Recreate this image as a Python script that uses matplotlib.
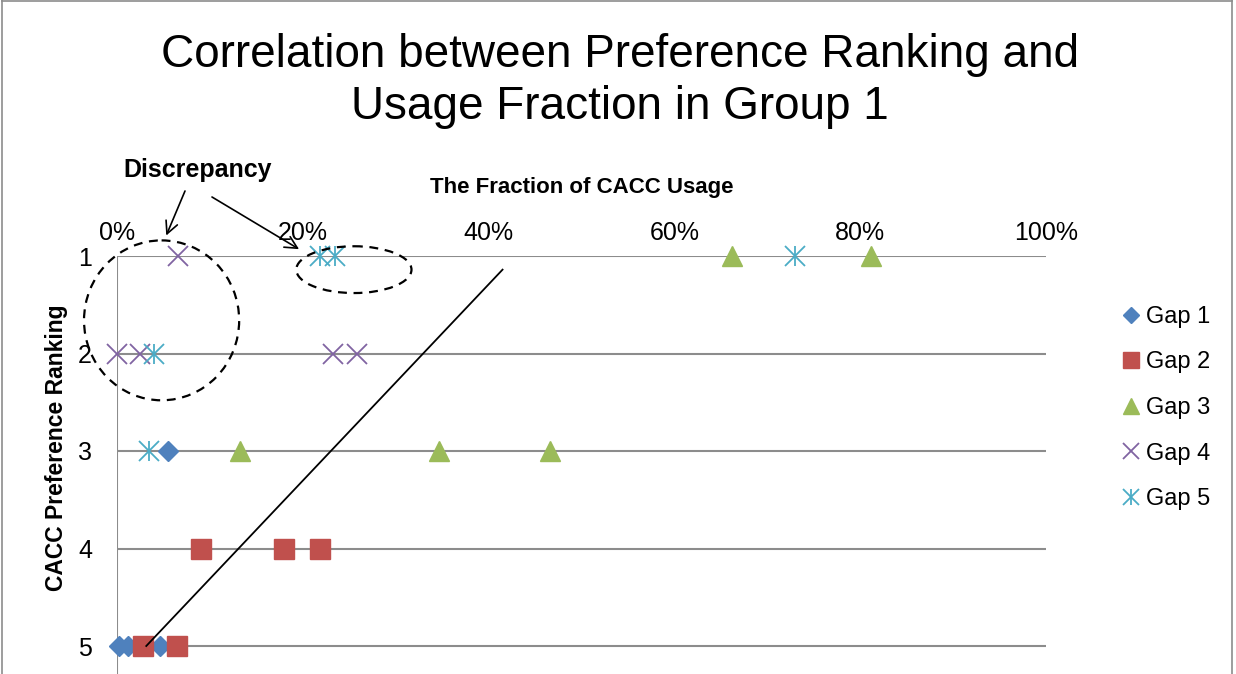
import numpy as np
import matplotlib.pyplot as plt
from matplotlib.patches import Ellipse
from matplotlib.lines import Line2D
from matplotlib.legend_handler import HandlerTuple
from matplotlib.ticker import PercentFormatter

plt.rcParams['font.family'] = ['Liberation Sans', 'DejaVu Sans']

# fraccion de uso (x) y ranking de preferencia (y) por gap
gap1_x = [0.055, 0.0025, 0.012, 0.046]
gap1_y = [3, 5, 5, 5]
gap2_x = [0.090, 0.180, 0.219, 0.028, 0.065]
gap2_y = [4, 4, 4, 5, 5]
gap3_x = [0.662, 0.812, 0.132, 0.347, 0.466]
gap3_y = [1, 1, 3, 3, 3]
gap4_x = [0.066, 0.0, 0.025, 0.232, 0.258]
gap4_y = [1, 2, 2, 2, 2]
gap5_x = [0.219, 0.235, 0.730, 0.040, 0.034]
gap5_y = [1, 1, 1, 2, 3]

etiquetas = ['Gap 1', 'Gap 2', 'Gap 3', 'Gap 4', 'Gap 5']
rankings = [1, 2, 3, 4, 5]
x_ticks = [0, 0.2, 0.4, 0.6, 0.8, 1.0]

azul, rojo, verde, morado, cian = '#4F81BD', '#C0504D', '#9BBB59', '#8064A2', '#4BACC6'

W, H = 1236, 674
fig = plt.figure(figsize=(W / 100, H / 100), dpi=100)
ax = fig.add_axes([117 / W, 0, (1046 - 117) / W, (674 - 256) / H])

ax.set_xlim(0, 1)
ax.set_ylim(1 + (674 - 256) / 97.5, 1)

# lineas horizontales de cada ranking
for r in rankings:
    ax.axhline(r, color='#8c8c8c', lw=1.5, zorder=1)
ax.axvline(0, color='#8c8c8c', lw=1.5, zorder=1)
for s in ax.spines.values():
    s.set_visible(False)

ax.xaxis.tick_top()
ax.set_xticks(x_ticks)
ax.xaxis.set_major_formatter(PercentFormatter(1.0, decimals=0))
ax.set_yticks(rankings)
ax.tick_params(length=0, labelsize=18)
ax.tick_params(axis='x', pad=8)
ax.tick_params(axis='y', pad=18)

# puntos
h1, = ax.plot(gap1_x, gap1_y, 'D', color=azul, ms=10, ls='none', zorder=3, clip_on=False)
h2, = ax.plot(gap2_x, gap2_y, 's', color=rojo, ms=14, ls='none', zorder=3, clip_on=False)
h3, = ax.plot(gap3_x, gap3_y, '^', color=verde, ms=14, ls='none', zorder=3, clip_on=False)
h4, = ax.plot(gap4_x, gap4_y, 'x', color=morado, ms=14, mew=1.3, ls='none', zorder=3, clip_on=False)
h5a, = ax.plot(gap5_x, gap5_y, 'x', color=cian, ms=14, mew=1.3, ls='none', zorder=3, clip_on=False)
h5b, = ax.plot(gap5_x, gap5_y, '|', color=cian, ms=14, mew=1.3, ls='none', zorder=3, clip_on=False)

# linea de tendencia dibujada a mano
ax.plot([0.0315, 0.415], [5, 1.14], color='black', lw=1.3, zorder=4)

# elipses de discrepancia
ax.add_patch(Ellipse((0.048, 1.66), 0.167, 1.64, fill=False, ls=(0, (4, 3)),
                     lw=1.6, ec='black', clip_on=False, zorder=4))
ax.add_patch(Ellipse((0.255, 1.14), 0.124, 0.48, fill=False, ls=(0, (4, 3)),
                     lw=1.6, ec='black', clip_on=False, zorder=4))

# flechas y texto
fig.text(198 / W, 1 - 170 / H, 'Discrepancy', ha='center', va='center', fontsize=18,
         fontweight='bold')
ax.annotate('', xy=(0.053, 0.79), xytext=(185 / W, 1 - 191 / H), textcoords='figure fraction',
            arrowprops=dict(arrowstyle='->', lw=1.2, color='black', mutation_scale=22,
                            shrinkA=0, shrinkB=0), annotation_clip=False)
ax.annotate('', xy=(0.196, 0.93), xytext=(212 / W, 1 - 197 / H), textcoords='figure fraction',
            arrowprops=dict(arrowstyle='->', lw=1.2, color='black', mutation_scale=22,
                            shrinkA=0, shrinkB=0), annotation_clip=False)

fig.text(582 / W, 1 - 187 / H, 'The Fraction of CACC Usage', ha='center', va='center',
         fontsize=16, fontweight='bold')
fig.text(57 / W, 1 - 448 / H, 'CACC Preference Ranking', ha='center', va='center',
         rotation=90, fontsize=16.5, fontweight='bold')
fig.text(620 / W, 1 - 81 / H, 'Correlation between Preference Ranking and\nUsage Fraction in Group 1',
         ha='center', va='center', fontsize=33, linespacing=1.25)

fig.legend([h1, h2, h3, h4, (h5a, h5b)], etiquetas,
           handler_map={tuple: HandlerTuple(ndivide=1)},
           loc='center left', bbox_to_anchor=(1108 / W, 1 - 408 / H), frameon=False,
           fontsize=17, handlelength=0.95, handletextpad=0.15, labelspacing=1.0, borderpad=0,
           markerscale=0.85)

# marco de la figura
for xs, ys in [([2 / W, 2 / W], [0, 1]), ([1232 / W, 1232 / W], [0, 1]), ([2 / W, 1232 / W], [1 - 1 / H, 1 - 1 / H])]:
    fig.add_artist(Line2D(xs, ys, color='#8c8c8c', lw=1.2))

fig.savefig('out.png', dpi=100)
